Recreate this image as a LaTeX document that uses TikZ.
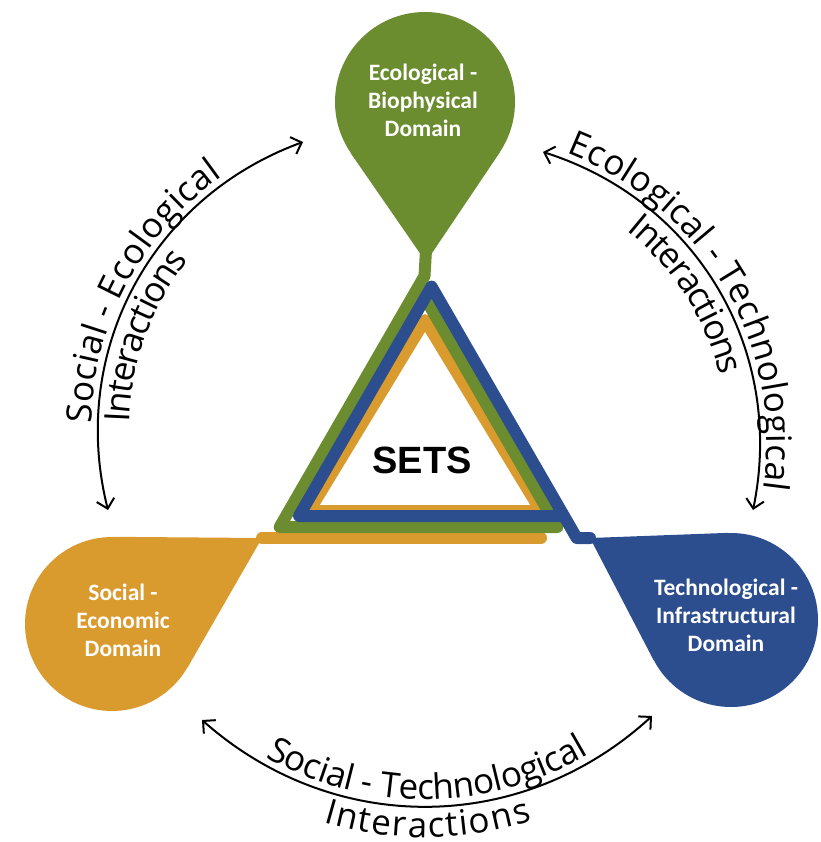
\documentclass[tikz,border=0pt]{standalone}
\usepackage{fontspec}
\setmainfont{Open Sans}
\newfontfamily\dropfont{Carlito}
\newfontfamily\setsfont{Liberation Sans}
\newfontfamily\arcfamily{Open Sans}
\newcommand\arcfont{\arcfamily\fontsize{35}{40}\selectfont}
\usetikzlibrary{calc,decorations.text,arrows.meta}
\definecolor{ecogreen}{RGB}{107,140,47}
\definecolor{socorange}{RGB}{217,154,46}
\definecolor{techblue}{RGB}{45,78,142}

\begin{document}
\begin{tikzpicture}[x=1pt,y=-1pt,
    band/.style={line width=12pt,line join=round,line cap=round},
    ball/.style={circle,inner sep=0pt,minimum size=#1},
    dlabel/.style={text=white,align=center,font=\dropfont\bfseries\fontsize{23.5}{28}\selectfont},
    inter/.style={<->,line width=2pt,>={Straight Barb[length=9pt,width=18pt]}}]

        \path[use as bounding box] (0,0) rectangle (820,842);

        \node[ball=180pt,fill=ecogreen] (eco) at (425,102) {};
        \node[ball=174pt,fill=socorange] (soc) at (112,624) {};
        \node[ball=174pt,fill=techblue] (tech) at (731,620) {};

        \coordinate (ecotip) at (426,262);
        \coordinate (soctip) at (262,538);
        \coordinate (techtip) at (590,538);

        \fill[ecogreen] (ecotip) -- (tangent cs:node=eco,point={(ecotip)},solution=1) -- (eco.center)
            -- (tangent cs:node=eco,point={(ecotip)},solution=2) -- cycle;
        \fill[socorange] (soctip) -- (tangent cs:node=soc,point={(soctip)},solution=1) -- (soc.center)
            -- (tangent cs:node=soc,point={(soctip)},solution=2) -- cycle;
        \fill[techblue] (techtip) -- (tangent cs:node=tech,point={(techtip)},solution=1) -- (tech.center)
            -- (tangent cs:node=tech,point={(techtip)},solution=2) -- cycle;

        \node[dlabel] (ecolabel) at (423,100) {Ecological -\\Biophysical\\Domain};
        \node[dlabel] (soclabel) at (123,620) {Social -\\Economic\\Domain};
        \node[dlabel] (techlabel) at (726,615) {Technological -\\Infrastructural\\Domain};

        \draw[band,socorange] (soctip) -- (541,538);
        \draw[band,socorange] (425,320.3) -- (309.1,511) -- (540.9,511) -- cycle;
        \draw[band,ecogreen] ([yshift=12pt]ecotip) -- (424.5,276) -- (279.7,527) -- (557.3,527) -- (418.5,286.6);
        \draw[band,techblue] (techtip) -- (576.7,538) -- (431.5,286.6) -- (299,516) -- (564,516);

        \node[font=\setsfont\bfseries\fontsize{38}{40}\selectfont] (sets) at (422,460) {SETS};

        \coordinate (se1) at (108,510);
        \coordinate (se2) at (303,142);
        \coordinate (et1) at (543,152);
        \coordinate (et2) at (753,510);
        \coordinate (st1) at (202,720);
        \coordinate (st2) at (652,716);

        \draw[inter] (se1) to[bend left=42] (se2);
        \draw[inter] (et1) to[bend left=42] (et2);
        \draw[inter] (st1) to[bend right=42] (st2);

        \path[decorate,decoration={text along path,text align=center,raise=7pt,
            text={|\arcfont|Social - Ecological}}] (se1) to[bend left=42] (se2);
        \path[decorate,decoration={text along path,text align={left indent=90pt},raise=-31pt,
            text={|\arcfont|Interactions}}] (se1) to[bend left=42] (se2);
        \path[decorate,decoration={text along path,text align=center,raise=7pt,
            text={|\arcfont|Ecological - Technological}}] (et1) to[bend left=42] (et2);
        \path[decorate,decoration={text along path,text align={left indent=118pt},raise=-31pt,
            text={|\arcfont|Interactions}}] (et1) to[bend left=42] (et2);
        \path[decorate,decoration={text along path,text align=center,raise=7pt,
            text={|\arcfont|Social - Technological}}] (st1) to[bend right=42] (st2);
        \path[decorate,decoration={text along path,text align=center,raise=-31pt,
            text={|\arcfont|Interactions}}] (st1) to[bend right=42] (st2);

      \end{tikzpicture}
\end{document}
